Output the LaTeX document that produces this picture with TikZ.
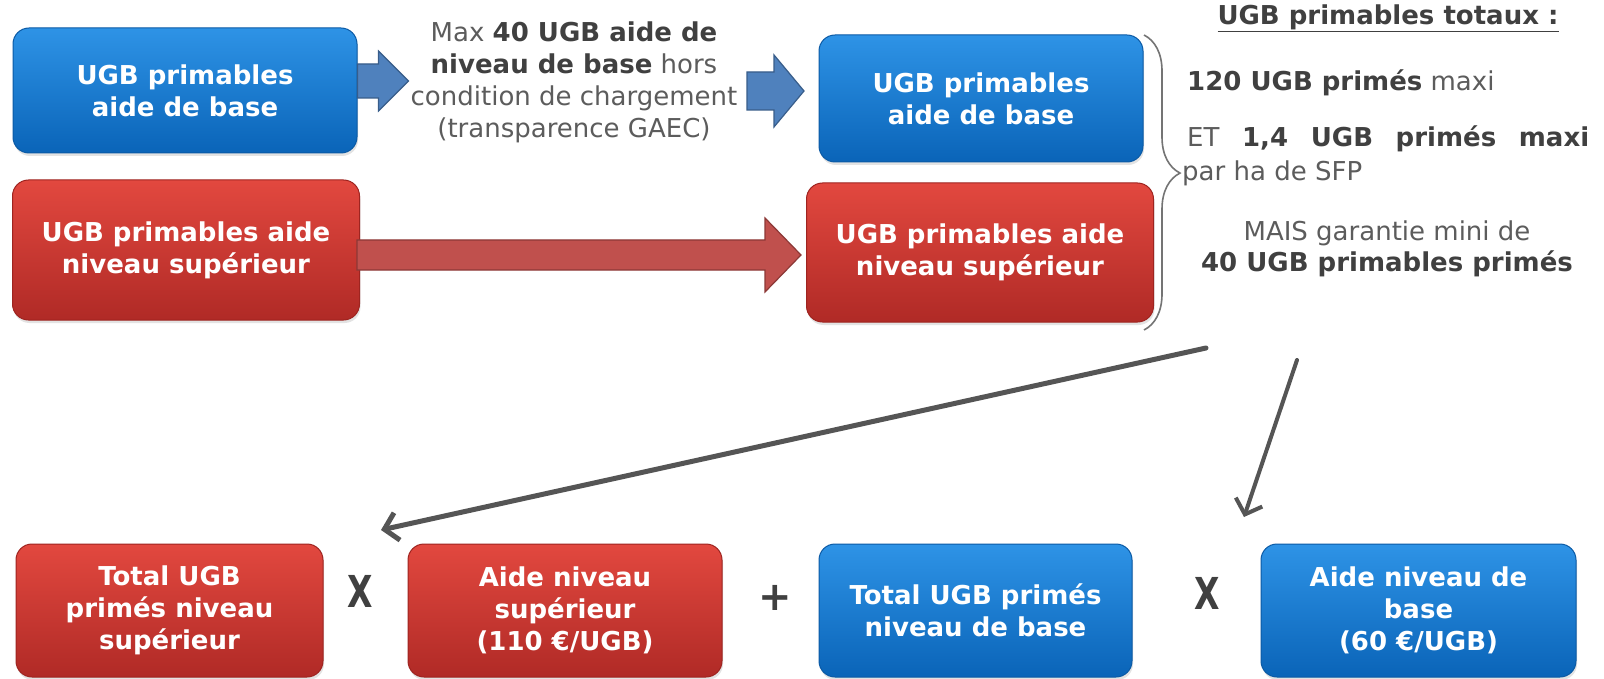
\documentclass[tikz,border=0pt]{standalone}
\usepackage{fontspec}
\setmainfont{DejaVu Sans}
\usetikzlibrary{arrows.meta,decorations.pathreplacing,shadows,calc}
\definecolor{bluetop}{HTML}{2E93E6}
\definecolor{bluebot}{HTML}{0A64B8}
\definecolor{blueedge}{HTML}{0B5AA5}
\definecolor{redtop}{HTML}{E2483F}
\definecolor{redbot}{HTML}{B02A26}
\definecolor{rededge}{HTML}{9E2420}
\definecolor{txtdark}{HTML}{404040}
\definecolor{txtgrey}{HTML}{5C5C5C}
\definecolor{arrblue}{HTML}{4F81BD}
\definecolor{arrblueedge}{HTML}{385D8A}
\definecolor{arrred}{HTML}{C0504D}
\definecolor{arrrededge}{HTML}{8C3836}
\definecolor{conn}{HTML}{555555}
\newcommand\blkarrow[6]{%
  \draw[#6] (#1) ++(0,-#3) -- ++({#2-#5},0) -- ++(0,{-(#4-#3)}) -- ++(#5,#4) -- ++(-#5,#4) -- ++(0,{-(#4-#3)}) -- ++({-(#2-#5)},0) -- cycle;}
\begin{document}
\begin{tikzpicture}[x=1pt,y=-1pt,
  box/.style={rounded corners=16pt, line width=1pt, text=white,
    font=\bfseries\fontsize{26}{32}\selectfont, align=center, inner sep=0pt,
    drop shadow={opacity=0.22, shadow xshift=1pt, shadow yshift=-3pt}},
  bluebox/.style={box, top color=bluetop, bottom color=bluebot, draw=blueedge},
  redbox/.style={box, top color=redtop, bottom color=redbot, draw=rededge},
  bluearr/.style={fill=arrblue, draw=arrblueedge, line width=1.2pt},
  redarr/.style={fill=arrred, draw=arrrededge, line width=1.2pt},
  note/.style={font=\fontsize{26}{32}\selectfont, text=txtgrey, inner sep=0pt},
  oper/.style={font=\bfseries\fontsize{44}{44}\selectfont, text=txtdark, inner sep=0pt},
  conline/.style={draw=conn, line cap=round, -{Straight Barb[length=13pt,width=28pt]}},
]
\fill[white] (0,0) rectangle (1604,679);
\useasboundingbox (0,0) rectangle (1604,679);

% top row
\node[bluebox, minimum width=344pt, minimum height=125pt] (A) at (185,90.5) {UGB primables\\aide de base};
\node[bluebox, minimum width=324pt, minimum height=127pt] (B) at (981,98.5) {UGB primables\\aide de base};
\node[redbox, minimum width=347pt, minimum height=140pt] (C) at (186,250) {UGB primables aide\\niveau supérieur};
\node[redbox, minimum width=347pt, minimum height=139pt] (D) at (980,252.5) {UGB primables aide\\niveau supérieur};

% block arrows
\coordinate (a1) at ($(A.east)+(0,-9.5)$);
\blkarrow{a1}{51}{17}{30}{30}{bluearr}
\node[note, align=center] (M) at (574,82) {Max \textcolor{txtdark}{\bfseries 40 UGB aide de}\\
  \textcolor{txtdark}{\bfseries niveau de base} hors\\condition de chargement\\(transparence GAEC)};
\coordinate (a2) at (747,91);
\blkarrow{a2}{57}{19}{36}{30}{bluearr}
\coordinate (a3) at ($(C.east)+(-3,5)$);
\blkarrow{a3}{444}{15}{37}{36}{redarr}

% brace
\draw[draw=txtgrey!85, line width=1.6pt, decorate, decoration={brace, amplitude=36pt, aspect=0.468}] (1144,35) -- (1144,330);

% right texts
\node[note, text=txtdark, font=\bfseries\fontsize{26}{32}\selectfont] (T) at (1388,18) {\underline{UGB primables totaux :}};
\node[note, anchor=base west] (L1) at (1187,91) {\textcolor{txtdark}{\bfseries 120 UGB primés} maxi};
\node[note, anchor=base west] (L2) at (1187,147) {\makebox[402pt]{ET\hfill\textcolor{txtdark}{\bfseries 1,4}\hfill\textcolor{txtdark}{\bfseries UGB}\hfill\textcolor{txtdark}{\bfseries primés}\hfill\textcolor{txtdark}{\bfseries maxi}}};
\node[note, anchor=base west] (L3) at (1182,181) {par ha de SFP};
\node[note, anchor=base] (L4) at (1387,241) {MAIS garantie mini de};
\node[note, anchor=base, text=txtdark, font=\bfseries\fontsize{26}{32}\selectfont] (L5) at (1387,271) {40 UGB primables primés};

% bottom row
\node[redbox, minimum width=307pt, minimum height=133pt] (E) at (169.5,610.5) {Total UGB\\primés niveau\\supérieur};
\node[redbox, minimum width=314pt, minimum height=133pt] (F) at (565,610.5) {Aide niveau\\supérieur\\(110 €/UGB)};
\node[bluebox, minimum width=313pt, minimum height=133pt] (G) at (975.5,610.5) {Total UGB primés\\niveau de base};
\node[bluebox, minimum width=315pt, minimum height=133pt] (H) at (1418.5,610.5) {Aide niveau de\\base\\(60 €/UGB)};

\node[oper, xscale=0.75] (X1) at (360,591) {X};
\node[oper, font=\bfseries\fontsize{40}{40}\selectfont] (P) at (775,598) {+};
\node[oper, xscale=0.75] (X2) at (1207,593) {X};

% connectors
\coordinate (s1) at (1206,348);
\coordinate (t1) at (381,530);
\coordinate (s2) at (1297,360);
\coordinate (t2) at (1244,517);
\draw[conline, line width=5pt] (s1) -- (t1);
\draw[conline, line width=4pt] (s2) -- (t2);
\end{tikzpicture}
\end{document}
